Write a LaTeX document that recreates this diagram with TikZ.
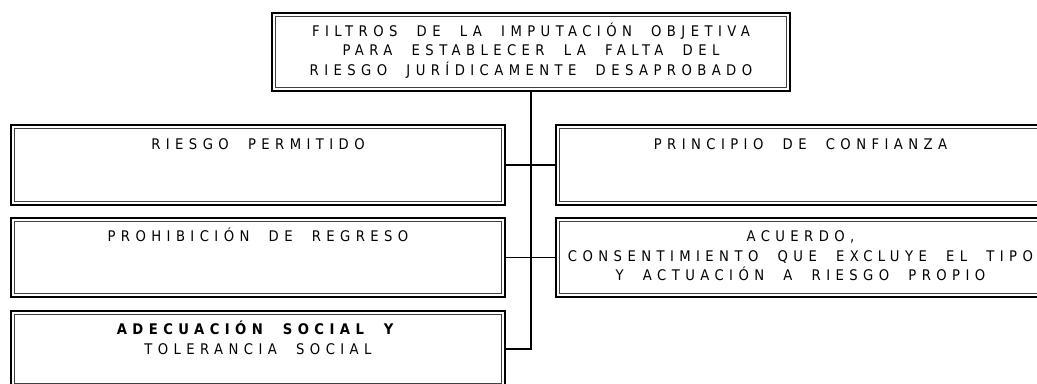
\documentclass[tikz,border=0pt]{standalone}
\usepackage{fontspec}
\setmainfont{DejaVu Sans Condensed}[LetterSpace=37,WordSpace=2]
\begin{document}
\begin{tikzpicture}[x=0.75pt,y=-0.75pt,
  box/.style={draw, line width=1.5pt, inner sep=0pt, outer sep=0pt, rectangle},
  innerline/.style={draw=black!75, line width=0.75pt},
  lbl/.style={font=\fontsize{11pt}{14.6pt}\selectfont, align=center, inner sep=0pt},
  link/.style={line width=0.9pt}]
\useasboundingbox (0,0) rectangle (1037,383);
\clip (0,0) rectangle (1037,383);
% boxes
\node[box, minimum width=388.5pt, minimum height=58.5pt] (top) at (531,52) {};
\node[box, minimum width=370.5pt, minimum height=60pt] (L1) at (258,165) {};
\node[box, minimum width=366.75pt, minimum height=60pt] (R1) at (800.5,165) {};
\node[box, minimum width=370.5pt, minimum height=59.25pt] (L2) at (258,257.5) {};
\node[box, minimum width=366.75pt, minimum height=59.25pt] (R2) at (800.5,257.5) {};
\node[box, minimum width=370.5pt, minimum height=57pt] (L3) at (258,349) {};
\foreach \n in {top,L1,R1,L2,R2,L3}
  \draw[innerline] ([shift={(2.4pt,-2.4pt)}]\n.north west) rectangle ([shift={(-2.4pt,2.4pt)}]\n.south east);
% texts (anchor base = baseline of the last line)
\node[lbl, anchor=base] (ttop) at (531,75) {FILTROS DE LA IMPUTACIÓN OBJETIVA\\PARA ESTABLECER LA FALTA DEL\\RIESGO JURÍDICAMENTE DESAPROBADO};
\node[lbl, anchor=base] (tL1) at (258,149) {RIESGO PERMITIDO};
\node[lbl, anchor=base] (tR1) at (800.5,149) {PRINCIPIO DE CONFIANZA};
\node[lbl, anchor=base] (tL2) at (258,241.5) {PROHIBICIÓN DE REGRESO};
\node[lbl, anchor=base] (tR2) at (800.5,280.5) {ACUERDO,\\CONSENTIMIENTO QUE EXCLUYE EL TIPO\\Y ACTUACIÓN A RIESGO PROPIO};
\node[lbl, anchor=base] (tL3) at (258,354) {\textbf{ADECUACIÓN SOCIAL Y}\\TOLERANCIA SOCIAL};
% connectors
\coordinate (tend) at (531,349);
\draw[link] (top.south) -- (tend) -- (L3.east);
\draw[link] (L1.east) -- (R1.west);
\draw[link] (L2.east) -- (R2.west);
\end{tikzpicture}
\end{document}
